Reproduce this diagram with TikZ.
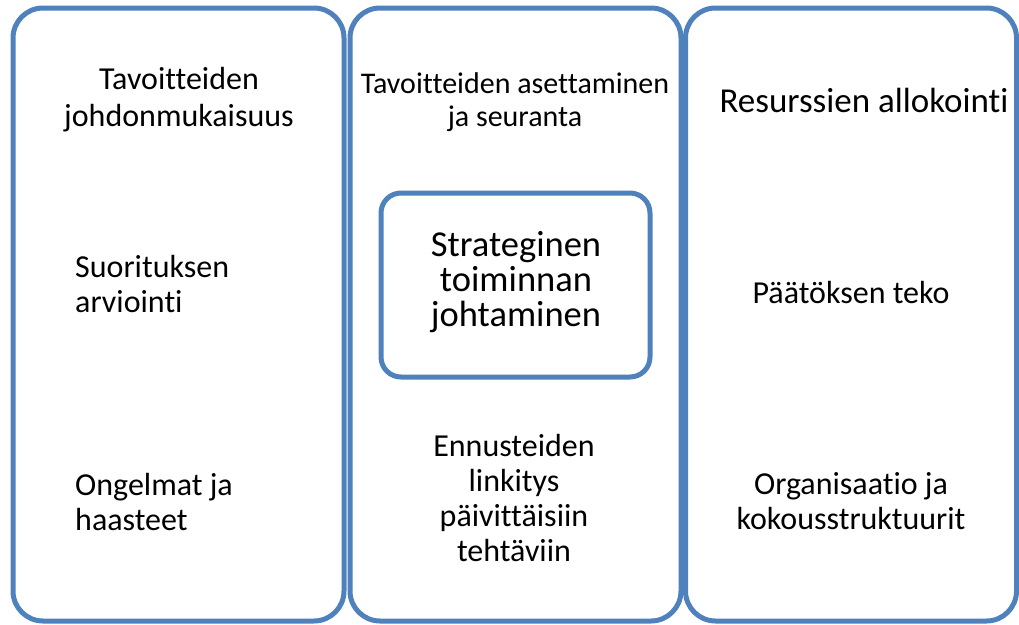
\documentclass[tikz,border=0pt]{standalone}
\usepackage{fontspec}
\setmainfont[Ligatures={NoCommon}]{Carlito}
\definecolor{boxblue}{HTML}{4F81BD}
\begin{document}
\begin{tikzpicture}[x=1pt,y=-1pt,
  column/.style={draw=boxblue,line width=5pt,rounded corners=30pt,minimum width=331pt,minimum height=613pt,inner sep=0pt,fill=white},
  centrebox/.style={draw=boxblue,line width=5pt,rounded corners=20pt,minimum width=269pt,minimum height=184pt,inner sep=0pt},
  label/.style={inner sep=0pt,align=center,font=\fontsize{32}{37}\selectfont},
  leftlabel/.style={inner sep=0pt,align=left,font=\fontsize{32}{35}\selectfont},
  biglabel/.style={inner sep=0pt,align=center,font=\fontsize{36.5}{35}\selectfont}]
\useasboundingbox (0,0) rectangle (1019,624);
\node[column] (colL) at (178.5,314.5) {};
\node[column] (colM) at (515.5,314.5) {};
\node[column] (colR) at (851,314.5) {};
\node[centrebox] (core) at (515.5,285) {};
% left column
\node[label] (l1) at (179,99.5) {Tavoitteiden\\johdonmukaisuus};
\node[leftlabel,anchor=west] (l2) at (75,284) {Suorituksen\\arviointi};
\node[leftlabel,anchor=west] (l3) at (75,501.5) {Ongelmat ja\\haasteet};
% middle column
\node[inner sep=0pt,align=center,font=\fontsize{30}{33}\selectfont] (m1) at (515,102.5) {Tavoitteiden asettaminen\\ja seuranta};
\node[biglabel] (m2) at (516,282) {Strateginen\\toiminnan\\johtaminen};
\node[inner sep=0pt,align=center,font=\fontsize{32}{35}\selectfont] (m3) at (514,498) {Ennusteiden\\linkitys\\päivittäisiin\\tehtäviin};
% right column
\node[inner sep=0pt,font=\fontsize{35}{37}\selectfont] (r1) at (864,100) {Resurssien allokointi};
\node[label] (r2) at (851,293) {Päätöksen teko};
\node[inner sep=0pt,align=center,font=\fontsize{32}{35}\selectfont] (r3) at (851,501) {Organisaatio ja\\kokousstruktuurit};
\end{tikzpicture}
\end{document}
